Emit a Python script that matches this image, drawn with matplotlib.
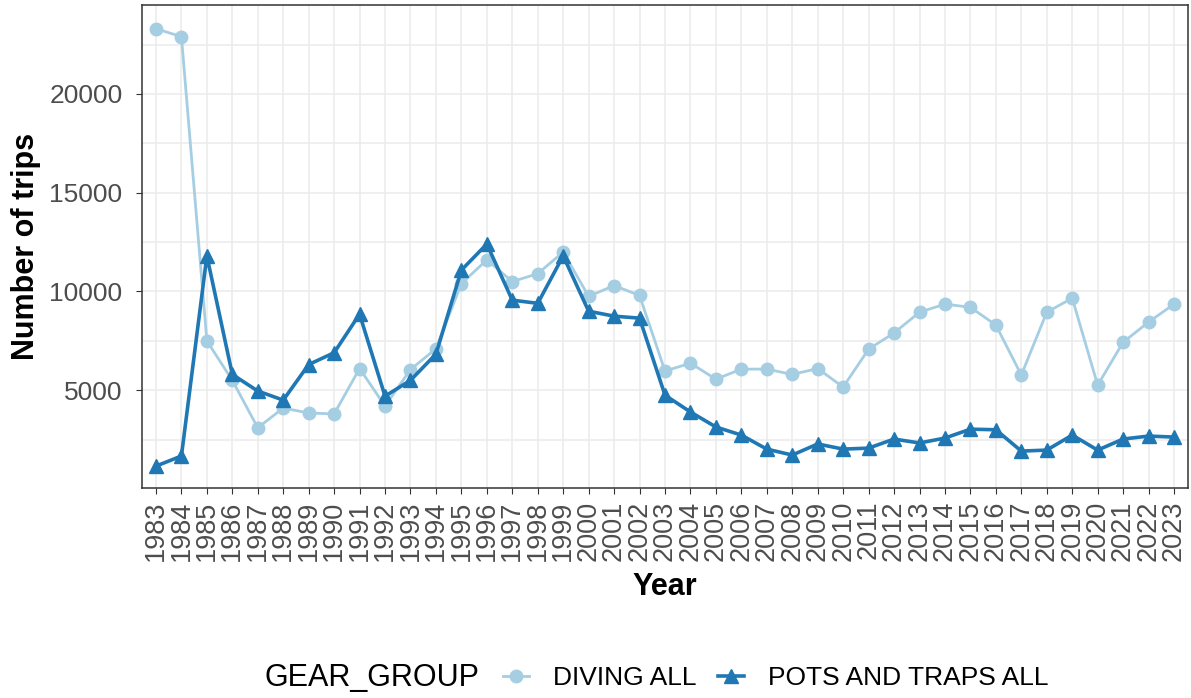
import matplotlib.pyplot as plt
from matplotlib.lines import Line2D

plt.rcParams['font.family'] = ['Liberation Sans', 'DejaVu Sans']

years = list(range(1983, 2024))
diving = [23300, 22900, 7500, 5500, 3100, 4100, 3850, 3800, 6100, 4200,
          6050, 7100, 10400, 11600, 10500, 10900, 12000, 9750, 10300, 9800,
          5970, 6370, 5560, 6070, 6070, 5800, 6100, 5160, 7080, 7900,
          8950, 9360, 9200, 8300, 5770, 8950, 9660, 5260, 7430, 8450, 9360]
pots = [1160, 1670, 11800, 5800, 4960, 4500, 6300, 6900, 8850, 4700,
        5500, 6830, 11080, 12400, 9560, 9400, 11800, 9000, 8750, 8650,
        4750, 3900, 3140, 2730, 2020, 1720, 2280, 2020, 2070, 2530,
        2330, 2580, 3030, 3000, 1920, 1970, 2730, 1970, 2530, 2680, 2630]
series_names = ['DIVING ALL', 'POTS AND TRAPS ALL']
colors = ['#a6cee3', '#1f78b4']

fig = plt.figure(figsize=(11.91, 6.98), dpi=100)
ax = fig.add_axes([0.1192, 0.3009, 0.8783, 0.6919])

ax.plot(years, diving, color=colors[0], lw=2.0, marker='o', ms=9, zorder=3)
ax.plot(years, pots, color=colors[1], lw=2.6, marker='^', ms=10, zorder=4)

ax.set_xlim(1982.45, 2023.55)
ax.set_ylim(53, 24500)
ax.set_xticks(years)
ax.set_xticklabels([str(y) for y in years], rotation=90, fontsize=19.5, color='#4d4d4d')
ax.set_yticks([5000, 10000, 15000, 20000])
ax.set_yticks([2500, 7500, 12500, 17500, 22500], minor=True)
ax.tick_params(axis='y', labelsize=19, labelcolor='#4d4d4d', length=4, color='#333333', pad=10)
ax.tick_params(axis='x', length=4, color='#333333', pad=5)
ax.tick_params(axis='y', which='minor', length=0)
ax.grid(True, which='both', color='#ebebeb', lw=1.1, zorder=0)
ax.set_axisbelow(True)
for s in ax.spines.values():
    s.set_color('#333333')
    s.set_linewidth(1.1)

ax.set_xlabel('Year', fontsize=22, fontweight='bold', labelpad=8)
ax.set_ylabel('Number of trips', fontsize=22, fontweight='bold', labelpad=6)

# legend at the bottom, title on the left like ggplot
handles = [Line2D([], [], color=colors[0], lw=2.0, marker='o', ms=9),
           Line2D([], [], color=colors[1], lw=2.6, marker='^', ms=10)]
fig.text(264 / 1191, 0.028, 'GEAR_GROUP', fontsize=22, ha='left', va='center')
fig.legend(handles, series_names, loc='center left', bbox_to_anchor=(503 / 1191, 0.028),
           ncol=2, frameon=False, fontsize=19, handlelength=1.0, handletextpad=0.9,
           columnspacing=0.8, borderpad=0, borderaxespad=0)

fig.savefig('out.png', dpi=100)
